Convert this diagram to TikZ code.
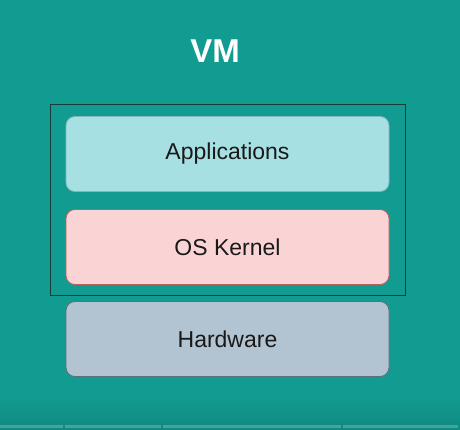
\documentclass[tikz,border=0pt]{standalone}
\usepackage{fontspec}
\setmainfont{Liberation Sans}
\usetikzlibrary{positioning}
\definecolor{bgteal}{HTML}{129C91}
\definecolor{bgdark}{HTML}{108A80}
\definecolor{barteal}{HTML}{45A39B}
\definecolor{appfill}{HTML}{A7E0E3}
\definecolor{appline}{HTML}{7FB8BC}
\definecolor{kernfill}{HTML}{FAD4D4}
\definecolor{kernline}{HTML}{B9625E}
\definecolor{hwfill}{HTML}{B2C3D1}
\definecolor{hwline}{HTML}{5E6E7F}
\definecolor{vmline}{HTML}{1B3B38}
\tikzset{
  layer/.style={draw, line width=0.8pt, rounded corners=9pt, minimum width=323pt,
    minimum height=75pt, font=\fontsize{23}{27}\selectfont, text=black!90},
  vmbox/.style={draw=vmline, line width=0.9pt, minimum width=355pt, minimum height=191pt}
}
\begin{document}
\begin{tikzpicture}[x=1pt, y=-1pt]
  % background
  \fill[bgteal] (0,0) rectangle (460,429);
  \shade[top color=bgteal, bottom color=bgdark] (0,395) rectangle (460,429);
  \useasboundingbox (0,0) rectangle (460,429);
  % progress bar segments
  \foreach \a/\b [count=\n] in {0/63, 65/161, 163/341, 343/458} {
    \fill[barteal] (\a,425) rectangle (\b,428);
  }
  % title
  \node[font=\bfseries\fontsize{33}{36}\selectfont, text=white] (vmtitle) at (215,51) {VM};
  % vm frame
  \node[vmbox] (vmframe) at (227.5,199.5) {};
  % layers
  \foreach \t/\c/\y/\name in {Applications/app/154/apps, OS Kernel/kern/247/kernel, Hardware/hw/339/hardware} {
    \node[layer, fill=\c fill, draw=\c line] (\name) at (227.5,\y) {\t};
  }
\end{tikzpicture}
\end{document}
